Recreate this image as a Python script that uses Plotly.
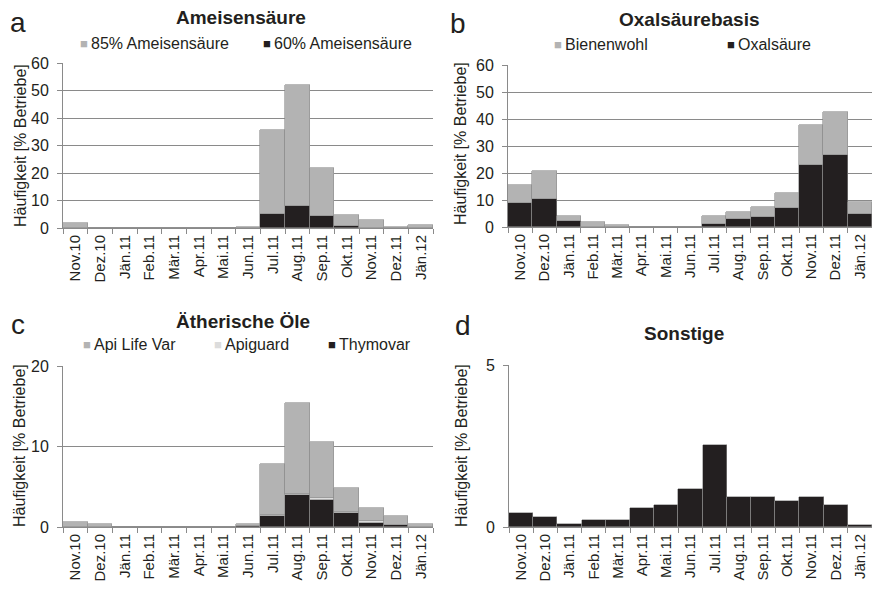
import plotly.graph_objects as go

W, H = 873, 589

months = ["Nov.10", "Dez.10", "Jän.11", "Feb.11", "Mär.11", "Apr.11", "Mai.11", "Jun.11",
          "Jul.11", "Aug.11", "Sep.11", "Okt.11", "Nov.11", "Dez.11", "Jän.12"]

# a: Ameisensäure
amei_60 = [0, 0, 0, 0, 0, 0, 0, 0, 5.1, 8.0, 4.4, 0.6, 0, 0, 0]
amei_85 = [1.8, 0, 0, 0, 0, 0, 0, 0.5, 30.6, 43.9, 17.6, 4.0, 2.9, 0.2, 1.0]

# b: Oxalsäurebasis
oxal_oxal = [8.9, 10.3, 2.1, 0, 0, 0, 0, 0, 1.2, 2.8, 3.7, 6.9, 23.1, 26.5, 5.0]
oxal_bienen = [6.6, 10.5, 1.9, 1.7, 0.9, 0, 0, 0, 3.0, 2.9, 3.7, 5.7, 14.5, 16.2, 4.2]

# c: Ätherische Öle
oel_thymovar = [0, 0, 0, 0, 0, 0, 0, 0.1, 1.4, 4.0, 3.4, 1.8, 0.5, 0.2, 0]
oel_apiguard = [0, 0, 0, 0, 0, 0, 0, 0, 0.1, 0.15, 0.2, 0.1, 0.2, 0.1, 0]
oel_apilife = [0.6, 0.4, 0, 0, 0, 0, 0, 0.3, 6.3, 11.2, 6.9, 3.0, 1.7, 1.1, 0.4]

# d: Sonstige
sonstige = [0.44, 0.32, 0.08, 0.21, 0.21, 0.58, 0.69, 1.18, 2.52, 0.93, 0.93, 0.81, 0.93, 0.69, 0.07]

BLACK = "#231f20"
GRAY = "#b3b3b3"
LIGHT = "#dcdcdc"
GRID = "#8a8a8a"
TXT = "#231f20"
FONT = "Liberation Sans, Arial, sans-serif"


def px_x(p):
    return p / W


def px_y(p):
    return 1 - p / H


fig = go.Figure()


def add_bar(y, color, xa, ya, name):
    fig.add_trace(go.Bar(x=months, y=y, name=name, marker=dict(color=color, line=dict(color="#8c8c8c", width=0.6)),
                         xaxis=xa, yaxis=ya, showlegend=False))


add_bar(amei_60, BLACK, "x", "y", "60% Ameisensäure")
add_bar(amei_85, GRAY, "x", "y", "85% Ameisensäure")
add_bar(oxal_oxal, BLACK, "x2", "y2", "Oxalsäure")
add_bar(oxal_bienen, GRAY, "x2", "y2", "Bienenwohl")
add_bar(oel_thymovar, BLACK, "x3", "y3", "Thymovar")
add_bar(oel_apiguard, LIGHT, "x3", "y3", "Apiguard")
add_bar(oel_apilife, GRAY, "x3", "y3", "Api Life Var")
add_bar(sonstige, BLACK, "x4", "y4", "Sonstige")

panels = {
    "": dict(x=(63, 433), y=(63, 228), rng=60, dt=10),
    "2": dict(x=(508, 872), y=(65, 227), rng=60, dt=10),
    "3": dict(x=(63, 433), y=(366, 527), rng=20, dt=10),
    "4": dict(x=(509, 872), y=(365, 527), rng=5, dt=5),
}

lay = {}
for k, p in panels.items():
    lay["xaxis" + k] = dict(
        domain=[px_x(p["x"][0]), px_x(p["x"][1])], automargin=False,
        anchor="y" + k, type="category", tickangle=-90, ticks="outside", tickson="boundaries",
        ticklen=5, tickcolor=GRID, showline=True, linecolor=GRID, linewidth=1, showgrid=False,
        tickfont=dict(size=15, color=TXT, family=FONT), ticklabeloverflow="allow",
    )
    lay["yaxis" + k] = dict(
        domain=[px_y(p["y"][1]), px_y(p["y"][0])], automargin=False,
        anchor="x" + k, range=[0, p["rng"]], dtick=p["dt"], tick0=0, ticks="outside", ticklen=5,
        tickcolor=GRID, showline=True, linecolor=GRID, linewidth=1, showgrid=True, gridcolor=GRID,
        gridwidth=1, zeroline=False, tickfont=dict(size=16, color=TXT, family=FONT),
        ticklabelstandoff=5,
    )

annotations = []


def ann(text, x, y, size, bold=False, xanchor="center", angle=0, color=TXT):
    annotations.append(dict(
        text=("<b>%s</b>" % text) if bold else text, x=px_x(x), y=px_y(y), xref="paper", yref="paper",
        showarrow=False, xanchor=xanchor, yanchor="middle", textangle=angle,
        font=dict(size=size, color=color, family=FONT)))


# panel letters
ann("a", 18, 22, 28)
ann("b", 458, 23, 28)
ann("c", 18, 324, 28)
ann("d", 463, 325, 28)

# titles
ann("Ameisensäure", 241, 17, 19, bold=True)
ann("Oxalsäurebasis", 689, 20, 19, bold=True)
ann("Ätherische Öle", 243, 321, 19, bold=True)
ann("Sonstige", 684, 333, 19, bold=True)

# y titles
ytitle = "Häufigkeit [% Betriebe]"
ann(ytitle, 20, 146, 16, angle=-90)
ann(ytitle, 461, 144, 16, angle=-90)
ann(ytitle, 19, 446, 16, angle=-90)
ann(ytitle, 461, 446, 16, angle=-90)

# legends
def leg(sq_x, y, color, label):
    ann("■", sq_x, y, 13, xanchor="left", color=color)
    ann(label, sq_x + 11, y, 16, xanchor="left")


leg(78, 43, GRAY, "85% Ameisensäure")
leg(261, 43, BLACK, "60% Ameisensäure")
leg(552, 44, GRAY, "Bienenwohl")
leg(725, 44, BLACK, "Oxalsäure")
leg(81, 344, GRAY, "Api Life Var")
leg(212, 344, LIGHT, "Apiguard")
leg(326, 344, BLACK, "Thymovar")

fig.update_layout(
    width=W, height=H, margin=dict(l=0, r=0, t=0, b=0, autoexpand=False),
    paper_bgcolor="white", plot_bgcolor="white",
    barmode="stack", bargap=0, showlegend=False,
    annotations=annotations, font=dict(family=FONT, color=TXT),
    **lay,
)

fig.write_html("out.html", config={"displayModeBar": False},
               post_script="document.body.style.margin='0px';document.body.style.overflow='hidden';")
